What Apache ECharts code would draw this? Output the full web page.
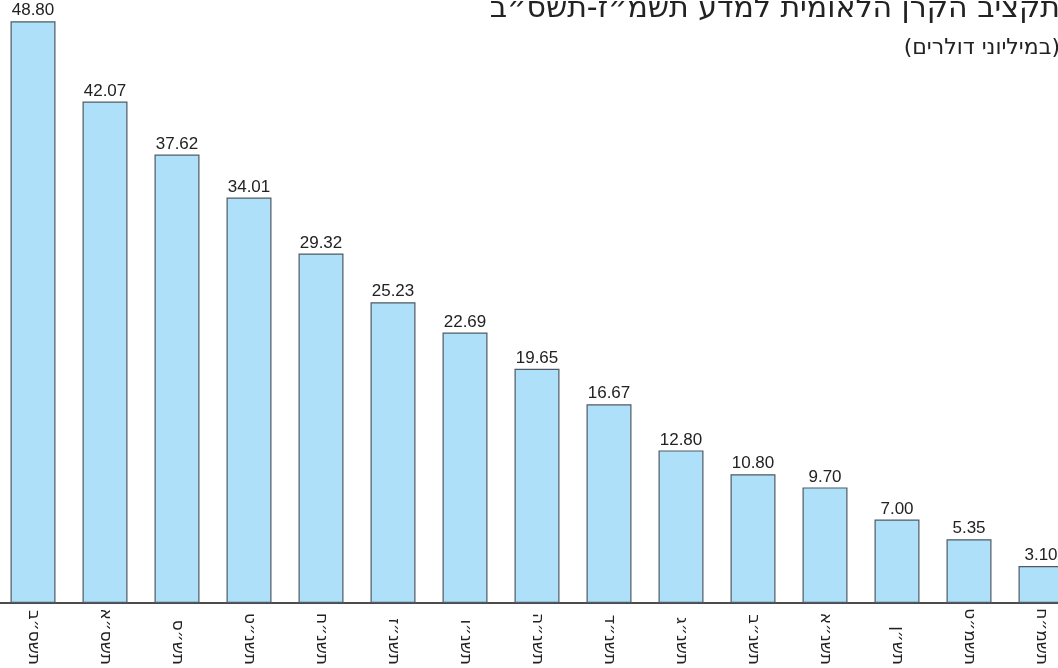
<!DOCTYPE html>
<html><head><meta charset="utf-8">
<script src="https://cdn.jsdelivr.net/npm/echarts@6/dist/echarts.min.js"></script>
<style>html,body{margin:0;padding:0;background:#fff;overflow:hidden;width:1058px;height:668px;position:relative}#c{position:absolute;left:-3.5px;top:0;width:1110px;height:668px}</style>
</head><body><div id="c"></div>
<script>
var titleText = 'תקציב הקרן הלאומית למדע תשמ״ז-תשס״ב';
var subtitleText = '(במיליוני דולרים)';
var years = ['תשס״ב','תשס״א','תש״ס','תשנ״ט','תשנ״ח','תשנ״ז','תשנ״ו','תשנ״ה','תשנ״ד','תשנ״ג','תשנ״ב','תשנ״א','תש״ן','תשמ״ט','תשמ״ח'];
var budget = [48.80, 42.07, 37.62, 34.01, 29.32, 25.23, 22.69, 19.65, 16.67, 12.80, 10.80, 9.70, 7.00, 5.35, 3.10];

var chart = echarts.init(document.getElementById('c'), null, {renderer:'canvas'});
chart.setOption({
  backgroundColor:'#fff',
  animation:false,
  title:[
    {text:titleText, right:42, top:-11, textStyle:{fontFamily:'DejaVu Sans', fontSize:30, fontWeight:'normal', color:'#222'}},
    {text:subtitleText, right:42, top:32, textStyle:{fontFamily:'DejaVu Sans', fontSize:22, fontWeight:'normal', color:'#222'}}
  ],
  grid:{left:0, width:1080, top:7, bottom:61, containLabel:false},
  xAxis:{type:'category', data:years, boundaryGap:true,
    axisLine:{lineStyle:{color:'#111', width:1.5}},
    axisTick:{show:false},
    axisLabel:{rotate:-90, margin:62, align:'right', fontFamily:'DejaVu Sans', fontSize:17, color:'#222', interval:0}
  },
  yAxis:{type:'value', min:0, max:50, show:false, splitLine:{show:false}},
  series:[{type:'bar', data:budget, barWidth:45,
    itemStyle:{color:'#aee0f9', borderColor:'#4e5a63', borderWidth:1.2},
    label:{show:true, position:'top', distance:2, fontFamily:'Liberation Sans', fontSize:17, color:'#222',
      formatter:function(p){return p.value.toFixed(2);}}
  }]
});
</script></body></html>
